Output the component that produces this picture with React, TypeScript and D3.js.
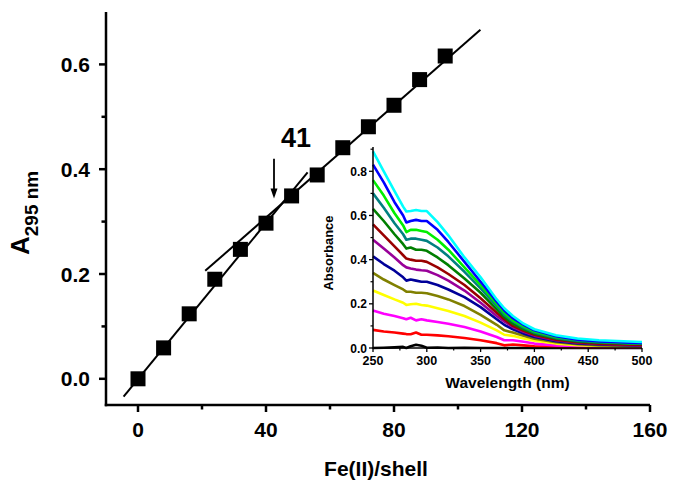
import React from "react";
import * as d3 from "d3";

// ---------- Main titration data ----------
const feRatio = [0, 8, 16, 24, 32, 40, 48, 56, 64, 72, 80, 88, 96];
const a295 = [0.0, 0.059, 0.124, 0.19, 0.247, 0.297, 0.349, 0.389, 0.441, 0.481, 0.522, 0.571, 0.616];

// Linear fits (endpoints)
const fit1X = [-4.5, 53];
const fit1Y = [-0.034, 0.394];
const fit2X = [21, 107];
const fit2Y = [0.206, 0.666];

const mainXTicks = [0, 40, 80, 120, 160];
const mainXMinor = [20, 60, 100, 140];
const mainYTicks = [0.0, 0.2, 0.4, 0.6];
const mainYMinor = [0.1, 0.3, 0.5];

const breakLabel = "41";
const arrowX = 42.5;
const arrowY = [0.42, 0.344];

// ---------- Inset spectra ----------
const wavelengths = [250, 260, 270, 278, 281, 285, 290, 295, 300, 310, 320, 335, 350, 365, 372, 380, 390, 400, 420, 440, 460, 500];
const specBlack = [0.0, 0.001, 0.003, 0.005, 0.0, 0.008, 0.015, 0.01, 0.001, 0.002, 0.0, 0.001, 0.0, 0.0, 0.0, 0.0, 0.0, 0.0, 0.0, 0.0, 0.0, 0.0];
const specRed = [0.082, 0.075, 0.07, 0.065, 0.063, 0.062, 0.07, 0.06, 0.06, 0.057, 0.053, 0.045, 0.035, 0.022, 0.012, 0.016, 0.012, 0.008, 0.005, 0.003, 0.002, 0.002];
const specMagenta = [0.17, 0.155, 0.145, 0.135, 0.13, 0.137, 0.125, 0.13, 0.125, 0.118, 0.11, 0.095, 0.075, 0.05, 0.035, 0.035, 0.028, 0.02, 0.012, 0.008, 0.006, 0.004];
const specYellow = [0.26, 0.24, 0.22, 0.205, 0.195, 0.198, 0.2, 0.195, 0.192, 0.18, 0.168, 0.145, 0.115, 0.08, 0.06, 0.055, 0.043, 0.033, 0.02, 0.013, 0.009, 0.006];
const specOlive = [0.34, 0.31, 0.285, 0.265, 0.255, 0.255, 0.25, 0.25, 0.248, 0.235, 0.22, 0.19, 0.15, 0.105, 0.08, 0.07, 0.055, 0.042, 0.026, 0.017, 0.012, 0.008];
const specNavy = [0.415, 0.38, 0.35, 0.32, 0.305, 0.31, 0.305, 0.3, 0.3, 0.285, 0.265, 0.23, 0.185, 0.13, 0.105, 0.085, 0.065, 0.05, 0.031, 0.021, 0.016, 0.01];
const specPurple = [0.49, 0.45, 0.41, 0.375, 0.365, 0.36, 0.355, 0.352, 0.35, 0.33, 0.305, 0.26, 0.205, 0.145, 0.12, 0.095, 0.073, 0.056, 0.035, 0.024, 0.018, 0.012];
const specDarkRed = [0.56, 0.51, 0.46, 0.42, 0.405, 0.4, 0.395, 0.395, 0.39, 0.365, 0.335, 0.285, 0.225, 0.16, 0.13, 0.1, 0.078, 0.06, 0.038, 0.026, 0.02, 0.014];
const specDarkGreen = [0.63, 0.575, 0.515, 0.47, 0.45, 0.455, 0.445, 0.445, 0.44, 0.41, 0.375, 0.315, 0.25, 0.175, 0.14, 0.11, 0.085, 0.065, 0.043, 0.03, 0.024, 0.018];
const specTeal = [0.7, 0.635, 0.565, 0.515, 0.49, 0.495, 0.495, 0.49, 0.485, 0.455, 0.415, 0.345, 0.27, 0.19, 0.15, 0.12, 0.092, 0.07, 0.046, 0.033, 0.026, 0.02];
const specGreen = [0.76, 0.69, 0.61, 0.555, 0.525, 0.535, 0.535, 0.53, 0.525, 0.49, 0.445, 0.365, 0.285, 0.2, 0.16, 0.125, 0.098, 0.075, 0.05, 0.036, 0.028, 0.02];
const specBlue = [0.83, 0.75, 0.66, 0.6, 0.568, 0.575, 0.58, 0.575, 0.575, 0.535, 0.48, 0.39, 0.3, 0.21, 0.17, 0.135, 0.105, 0.08, 0.053, 0.038, 0.03, 0.022];
const specCyan = [0.89, 0.8, 0.71, 0.64, 0.618, 0.62, 0.625, 0.62, 0.62, 0.57, 0.51, 0.41, 0.32, 0.22, 0.18, 0.145, 0.11, 0.085, 0.058, 0.043, 0.035, 0.027];

const spectra = [specBlack, specRed, specMagenta, specYellow, specOlive, specNavy, specPurple, specDarkRed, specDarkGreen, specTeal, specGreen, specBlue, specCyan];
const spectraColors = ["#000000", "#ff0000", "#ff00ff", "#ffff00", "#808000", "#000099", "#990099", "#990000", "#007f00", "#008080", "#00ee00", "#0000ff", "#00ffff"];

const insetXTicks = [250, 300, 350, 400, 450, 500];
const insetXMinor = [275, 325, 375, 425, 475];
const insetYTicks = [0.0, 0.2, 0.4, 0.6, 0.8];
const insetYMinor = [0.1, 0.3, 0.5, 0.7, 0.9];

const FONT = "'Liberation Sans', Arial, Helvetica, sans-serif";

export default function App() {
  const W = 681, H = 494;
  const x = d3.scaleLinear().domain([-10, 160]).range([106, 650]);
  const y = d3.scaleLinear().domain([-0.05, 0.7]).range([405, 12]);

  const ix = d3.scaleLinear().domain([250, 500]).range([373, 642]);
  const iy = d3.scaleLinear().domain([0, 0.91]).range([348, 147]);

  const line = d3.line<number>();
  const specLine = (vals: number[]) =>
    d3.line<number>().x((_, i) => ix(wavelengths[i])).y((v) => iy(v)).curve(d3.curveLinear)(vals) as string;

  const sq = 15;
  const axisW = 2.5;

  return (
    <svg width={W} height={H} style={{ position: "absolute", left: 0, top: 0, background: "#fff" }} fontFamily={FONT}>
      <rect x={0} y={0} width={W} height={H} fill="#fff" />

      {/* Inset spectra */}
      <g>
        {spectra.map((s, k) => (
          <path key={k} d={specLine(s)} fill="none" stroke={spectraColors[k]} strokeWidth={2.6} strokeLinejoin="round" />
        ))}
        {/* inset axes */}
        <line x1={ix(250)} x2={ix(250)} y1={iy(0.91)} y2={iy(0) + 0.75} stroke="#000" strokeWidth={1.5} />
        <line x1={ix(250) - 0.75} x2={ix(500)} y1={iy(0)} y2={iy(0)} stroke="#000" strokeWidth={1.5} />
        {insetXTicks.map((t) => (
          <g key={"ixt" + t}>
            <line x1={ix(t)} x2={ix(t)} y1={iy(0)} y2={iy(0) + 4} stroke="#000" strokeWidth={1.3} />
            <text x={ix(t)} y={iy(0) + 17} textAnchor="middle" fontSize={12.5} fontWeight="bold">{t}</text>
          </g>
        ))}
        {insetXMinor.map((t) => (
          <line key={"ixm" + t} x1={ix(t)} x2={ix(t)} y1={iy(0)} y2={iy(0) + 2.5} stroke="#000" strokeWidth={1.2} />
        ))}
        {insetYTicks.map((t) => (
          <g key={"iyt" + t}>
            <line x1={ix(250) - 4} x2={ix(250)} y1={iy(t)} y2={iy(t)} stroke="#000" strokeWidth={1.3} />
            <text x={ix(250) - 6} y={iy(t) + 4.5} textAnchor="end" fontSize={12} fontWeight="bold">{t.toFixed(1)}</text>
          </g>
        ))}
        {insetYMinor.map((t) => (
          <line key={"iym" + t} x1={ix(250) - 2.5} x2={ix(250)} y1={iy(t)} y2={iy(t)} stroke="#000" strokeWidth={1.2} />
        ))}
        <text x={ix(375)} y={iy(0) + 40} textAnchor="middle" fontSize={15.5} fontWeight="bold">Wavelength (nm)</text>
        <text transform={`translate(${333},${iy(0.43)}) rotate(-90)`} textAnchor="middle" fontSize={13} fontWeight="bold">Absorbance</text>
      </g>

      {/* Fit lines */}
      <path d={line([[x(fit1X[0]), y(fit1Y[0])], [x(fit1X[1]), y(fit1Y[1])]]) as string} stroke="#000" strokeWidth={2} fill="none" />
      <path d={line([[x(fit2X[0]), y(fit2Y[0])], [x(fit2X[1]), y(fit2Y[1])]]) as string} stroke="#000" strokeWidth={2} fill="none" />

      {/* Markers */}
      {feRatio.map((v, i) => (
        <rect key={"m" + i} x={x(v) - sq / 2} y={y(a295[i]) - sq / 2} width={sq} height={sq} fill="#000" />
      ))}

      {/* Arrow and label */}
      <line x1={x(arrowX)} x2={x(arrowX)} y1={y(arrowY[0])} y2={y(arrowY[1]) - 8} stroke="#000" strokeWidth={1.8} />
      <path
        d={`M${x(arrowX) - 3.5},${y(arrowY[1]) - 10} L${x(arrowX) + 3.5},${y(arrowY[1]) - 10} L${x(arrowX)},${y(arrowY[1])} Z`}
        fill="#000"
      />
      <text x={x(arrowX) + 22} y={147} textAnchor="middle" fontSize={27} fontWeight="bold">{breakLabel}</text>

      {/* Main axes */}
      <line x1={x(-10)} x2={x(-10)} y1={y(0.7)} y2={y(-0.05) + axisW / 2} stroke="#000" strokeWidth={axisW} />
      <line x1={x(-10) - axisW / 2} x2={x(160)} y1={y(-0.05)} y2={y(-0.05)} stroke="#000" strokeWidth={axisW} />
      {mainXTicks.map((t) => (
        <g key={"xt" + t}>
          <line x1={x(t)} x2={x(t)} y1={y(-0.05)} y2={y(-0.05) + 7} stroke="#000" strokeWidth={2.5} />
          <text x={x(t)} y={437} textAnchor="middle" fontSize={21} fontWeight="bold">{t}</text>
        </g>
      ))}
      {mainXMinor.map((t) => (
        <line key={"xm" + t} x1={x(t)} x2={x(t)} y1={y(-0.05)} y2={y(-0.05) + 4.5} stroke="#000" strokeWidth={2.5} />
      ))}
      {mainYTicks.map((t) => (
        <g key={"yt" + t}>
          <line x1={x(-10) - 7} x2={x(-10)} y1={y(t)} y2={y(t)} stroke="#000" strokeWidth={2.5} />
          <text x={90} y={y(t) + 7.5} textAnchor="end" fontSize={21} fontWeight="bold">{t.toFixed(1)}</text>
        </g>
      ))}
      {mainYMinor.map((t) => (
        <line key={"ym" + t} x1={x(-10) - 4.5} x2={x(-10)} y1={y(t)} y2={y(t)} stroke="#000" strokeWidth={2.5} />
      ))}

      {/* Axis titles */}
      <text x={376} y={476} textAnchor="middle" fontSize={21} fontWeight="bold">Fe(II)/shell</text>
      <text transform={`translate(29,${255}) rotate(-90)`} fontWeight="bold">
        <tspan fontSize={26}>A</tspan>
        <tspan fontSize={19} dy={9}>295 nm</tspan>
      </text>
    </svg>
  );
}
